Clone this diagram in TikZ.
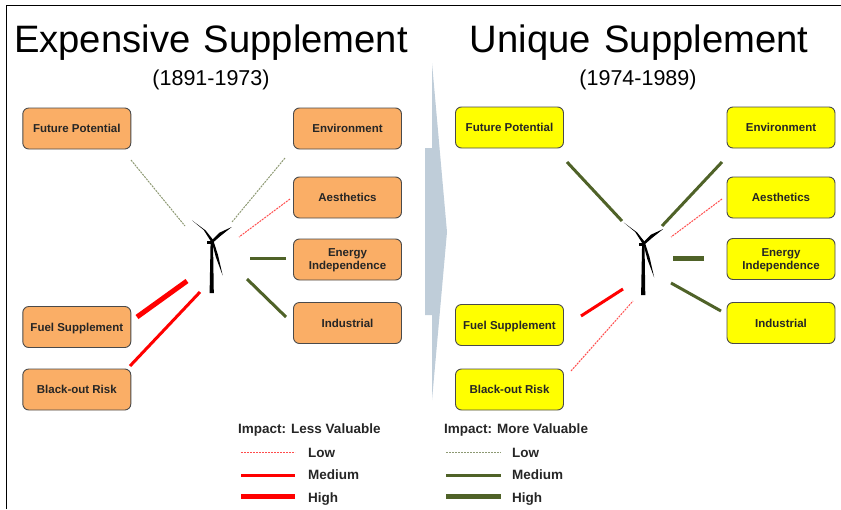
\documentclass[tikz,border=0pt]{standalone}
\usepackage{fontspec}
\setmainfont{Liberation Sans}
\definecolor{orange3}{HTML}{FAAE66}
\definecolor{yellow3}{HTML}{FFFF00}
\definecolor{olive3}{HTML}{4F6228}
\definecolor{arrow3}{HTML}{BFCDD9}
\definecolor{edge3}{HTML}{4A4A4A}
\definecolor{text3}{HTML}{262626}
\tikzset{
  box/.style={draw=edge3, line width=0.9pt, rounded corners=6pt, minimum width=108pt, minimum height=41pt,
    inner sep=0pt, align=center, text=text3, font=\fontsize{11.5}{13}\selectfont\bfseries},
  orangebox/.style={box, fill=orange3},
  yellowbox/.style={box, fill=yellow3},
  nodepth/.style={text depth=0pt},
  legend/.style={anchor=base west, inner sep=0pt, text=text3, font=\fontsize{13.5}{15}\selectfont\bfseries},
  title/.style={inner sep=0pt, font=\fontsize{38.2}{40}\selectfont},
  years/.style={inner sep=0pt, font=\fontsize{21.5}{24}\selectfont},
  lowred/.style={red!70, line width=1pt, dash pattern=on 2pt off 1pt},
  medred/.style={red, line width=3pt},
  highred/.style={red, line width=5pt},
  lowolive/.style={olive3!65, line width=1pt, dash pattern=on 2pt off 1pt},
  medolive/.style={olive3, line width=3pt},
  higholive/.style={olive3, line width=5pt},
}
\newcommand{\turbine}[1]{%
  \begin{scope}[shift={#1}]
    \fill[black] (-1.6,0) -- (0.8,0) -- (1.6,52) -- (-2.6,52) -- cycle;
    \fill[black] (-5,0) rectangle (1.5,3);
    \fill[black] (-0.8,1.2) -- (-8.5,-11) -- (-20,-20.5) -- (-6.5,-10.5) -- (1.2,-0.8) -- cycle;
    \fill[black] (-0.8,-0.4) -- (7,-8.2) -- (19.5,-14) -- (8.5,-5.2) -- (1.2,1.2) -- cycle;
    \fill[black] (-0.6,0) -- (3.6,16) -- (10.5,34.5) -- (5.8,14) -- (1.2,-0.4) -- cycle;
  \end{scope}
}

\begin{document}
\begin{tikzpicture}[x=1pt, y=-1pt]
  \useasboundingbox (0,0) rectangle (841,509);

  \draw[black, line width=1pt] (6,509) -- (6,5) -- (841,5);

  \node[title] (titleleft) at (211,42.5) {Expensive\hspace{3pt} Supplement};
  \node[title] (titleright) at (639,42.5) {Unique\hspace{3pt} Supplement};
  \node[years] (yearsleft) at (211,80) {(1891-1973)};
  \node[years] (yearsright) at (638,80) {(1974-1989)};

  % big arrow between the two periods
  \fill[arrow3] (425,148) -- (432,148) -- (432,63) -- (447,232) -- (432,400) -- (432,315) -- (425,315) -- cycle;

  % left side
  \node[orangebox] (lfuture) at (76.8,128.5) {Future Potential};
  \node[orangebox] (lenvironment) at (347.5,128.5) {Environment};
  \node[orangebox] (laesthetics) at (347.5,197.5) {Aesthetics};
  \node[orangebox, nodepth] (lenergy) at (347.5,259.5) {Energy\\Independence};
  \node[orangebox] (lindustrial) at (347.5,323) {Industrial};
  \node[orangebox, nodepth] (lfuel) at (76.8,327) {Fuel Supplement};
  \node[orangebox] (lblackout) at (76.8,389.5) {Black-out Risk};

  \turbine{(212.2,241)}

  \coordinate (lfuturea) at (131,160);   \coordinate (lfutureb) at (185,226);
  \coordinate (lenvira) at (285,158);    \coordinate (lenvirb) at (232,222);
  \coordinate (laesa) at (290,199);      \coordinate (laesb) at (239,237);
  \coordinate (lenergya) at (286,258.5); \coordinate (lenergyb) at (250,258.5);
  \coordinate (lindusa) at (286,317);    \coordinate (lindusb) at (247,279);
  \coordinate (lfuela) at (137,317);     \coordinate (lfuelb) at (187,281);
  \coordinate (lblacka) at (130,366);    \coordinate (lblackb) at (200,292);

  \draw[lowolive] (lfuturea) -- (lfutureb);
  \draw[lowolive] (lenvira) -- (lenvirb);
  \draw[lowred] (laesa) -- (laesb);
  \draw[medolive] (lenergya) -- (lenergyb);
  \draw[medolive] (lindusa) -- (lindusb);
  \draw[highred] (lfuela) -- (lfuelb);
  \draw[medred] (lblacka) -- (lblackb);

  % right side
  \node[yellowbox] (rfuture) at (509.5,127.5) {Future Potential};
  \node[yellowbox] (renvironment) at (781,127.5) {Environment};
  \node[yellowbox] (raesthetics) at (781,197.5) {Aesthetics};
  \node[yellowbox, nodepth] (renergy) at (781,259) {Energy\\Independence};
  \node[yellowbox] (rindustrial) at (781,323) {Industrial};
  \node[yellowbox, nodepth] (rfuel) at (509.5,325) {Fuel Supplement};
  \node[yellowbox] (rblackout) at (509.5,389.5) {Black-out Risk};

  \turbine{(643.7,243)}

  \coordinate (rfuturea) at (567,162);   \coordinate (rfutureb) at (622,221);
  \coordinate (renvira) at (722,162);    \coordinate (renvirb) at (662,226);
  \coordinate (raesa) at (722,199);      \coordinate (raesb) at (671,237);
  \coordinate (renergya) at (704,258);   \coordinate (renergyb) at (673,258);
  \coordinate (rindusa) at (721,311);    \coordinate (rindusb) at (671,283);
  \coordinate (rfuela) at (581,316);     \coordinate (rfuelb) at (623,289);
  \coordinate (rblacka) at (571,371);    \coordinate (rblackb) at (633,301);

  \draw[medolive] (rfuturea) -- (rfutureb);
  \draw[medolive] (renvira) -- (renvirb);
  \draw[lowred] (raesa) -- (raesb);
  \draw[higholive] (renergya) -- (renergyb);
  \draw[medolive] (rindusa) -- (rindusb);
  \draw[medred] (rfuela) -- (rfuelb);
  \draw[lowred] (rblacka) -- (rblackb);

  % legends
  \node[legend] (limpact) at (238,433) {Impact: Less Valuable};
  \node[legend] (llow) at (308,457) {Low};
  \node[legend] (lmedium) at (308,479) {Medium};
  \node[legend] (lhigh) at (308,502) {High};
  \coordinate (lkeya) at (241,452);    \coordinate (lkeyb) at (295,452);
  \coordinate (lkeyc) at (241,475.5);  \coordinate (lkeyd) at (295,475.5);
  \coordinate (lkeye) at (241,496);    \coordinate (lkeyf) at (295,496);
  \draw[lowred] (lkeya) -- (lkeyb);
  \draw[medred] (lkeyc) -- (lkeyd);
  \draw[highred] (lkeye) -- (lkeyf);

  \node[legend] (rimpact) at (444,433) {Impact: More Valuable};
  \node[legend] (rlow) at (512,457) {Low};
  \node[legend] (rmedium) at (512,479) {Medium};
  \node[legend] (rhigh) at (512,502) {High};
  \coordinate (rkeya) at (446,452);    \coordinate (rkeyb) at (501,452);
  \coordinate (rkeyc) at (446,475.5);  \coordinate (rkeyd) at (501,475.5);
  \coordinate (rkeye) at (446,496);    \coordinate (rkeyf) at (501,496);
  \draw[lowolive] (rkeya) -- (rkeyb);
  \draw[medolive] (rkeyc) -- (rkeyd);
  \draw[higholive] (rkeye) -- (rkeyf);
\end{tikzpicture}
\end{document}
